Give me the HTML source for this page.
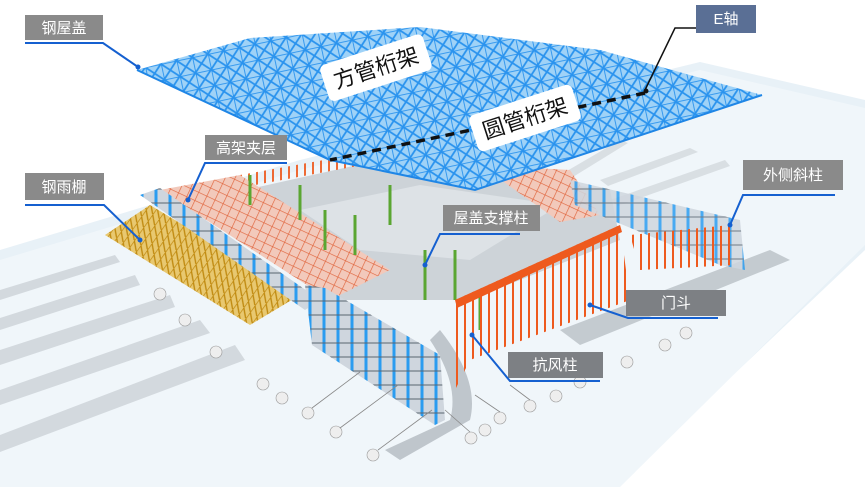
<!DOCTYPE html>
<html><head><meta charset="utf-8"><style>
html,body{margin:0;padding:0;background:#fff;}
svg{display:block}
.lb{font-family:"Liberation Sans","Noto Sans CJK SC",sans-serif;fill:#fff;font-size:15px}
</style></head><body>
<svg width="865" height="487" viewBox="0 0 865 487" xmlns="http://www.w3.org/2000/svg">
<defs>
<pattern id="lat" width="16" height="16" patternUnits="userSpaceOnUse" patternTransform="rotate(-12)">
<rect width="16" height="16" fill="#9fd2f7"/>
<path d="M0 0L16 16M16 0L0 16M0 0H16M0 0V16" stroke="#2a93ee" stroke-width="1.8"/>
</pattern>
<pattern id="org" width="9" height="9" patternUnits="userSpaceOnUse" patternTransform="rotate(25)">
<rect width="9" height="9" fill="#f2c9bb"/>
<path d="M0 0V9M0 0H9" stroke="#e0643c" stroke-width="1.3"/>
</pattern>
<pattern id="ow" width="8" height="10" patternUnits="userSpaceOnUse">
<rect width="8" height="10" fill="none"/>
<path d="M1 0V10" stroke="#ee5a1e" stroke-width="2"/>
</pattern>
<pattern id="yel" width="8" height="8" patternUnits="userSpaceOnUse" patternTransform="rotate(35)">
<rect width="8" height="8" fill="#e8c870"/>
<path d="M0 0L8 8M0 0V8" stroke="#c08a10" stroke-width="1.4"/>
</pattern>
<pattern id="bw" width="14" height="14" patternUnits="userSpaceOnUse">
<rect width="14" height="14" fill="#cfd6de"/>
<path d="M2 0V14" stroke="#2a9cf0" stroke-width="3"/>
<path d="M0 7H14" stroke="#5a6570" stroke-width="1"/>
</pattern>
</defs>
<polygon points="0,250 300,160 700,62 865,100 865,250 615,487 0,487" fill="#e8f1f7"/>
<polygon points="0,260 300,170 700,70 865,108 865,245 620,487 0,487" fill="#f0f6fa"/>
<g fill="#d3d9de">
<polygon points="0,290 115,255 120,262 0,300"/>
<polygon points="0,318 135,275 140,285 0,330"/>
<polygon points="0,350 170,295 175,307 0,365"/>
<polygon points="0,390 200,320 210,333 0,405"/>
<polygon points="0,435 235,345 245,360 0,452"/>
</g>
<g fill="#d9dfe3">
<polygon points="560,175 620,140 628,143 568,180"/>
<polygon points="600,180 690,148 698,152 608,186"/>
<polygon points="610,200 725,160 730,166 618,206"/>
</g>
<polygon points="200,200 380,160 610,190 620,240 470,300 330,300" fill="#cdd3d8"/>
<polygon points="300,210 420,185 560,205 470,260 360,250" fill="#dde2e6"/>
<path d="M440,330 Q480,380 470,420 L400,460 L385,450 L450,420 Q460,385 430,340Z" fill="#bfc6cc"/>
<polygon points="560,330 770,250 790,260 580,345" fill="#c4cbd0"/>
<polygon points="160,190 240,175 390,270 330,300" fill="url(#org)"/>
<polygon points="240,175 380,150 390,160 255,185" fill="url(#ow)" opacity=".9"/>
<polygon points="480,165 570,170 600,215 560,222" fill="url(#org)"/>
<g stroke="#5aa632" stroke-width="3">
<line x1="300" y1="185" x2="300" y2="220"/><line x1="325" y1="210" x2="325" y2="250"/>
<line x1="355" y1="215" x2="355" y2="255"/><line x1="390" y1="185" x2="390" y2="225"/>
<line x1="425" y1="250" x2="425" y2="300"/><line x1="455" y1="250" x2="455" y2="300"/>
<line x1="480" y1="290" x2="480" y2="330"/><line x1="250" y1="175" x2="250" y2="205"/>
</g>
<polygon points="105,235 150,205 300,295 250,325" fill="url(#yel)"/>
<polygon points="140,195 160,188 320,300 305,310" fill="url(#bw)"/>
<polygon points="305,285 325,288 440,355 445,420 435,425 312,345" fill="url(#bw)"/>
<polygon points="455,300 620,225 630,300 470,360 450,400" fill="url(#ow)"/>
<polygon points="455,300 620,225 622,232 457,308" fill="#ee5a1e"/>
<polygon points="570,180 740,220 745,270 720,265 575,205" fill="url(#bw)" opacity=".85"/>
<polygon points="630,235 730,225 735,265 640,270" fill="url(#ow)"/>
<polygon points="137,70 250,38 420,27 600,50 762,95 475,190 330,160" fill="url(#lat)"/>
<path d="M137,70 L330,160 L475,190 L762,95" stroke="#1f86e6" stroke-width="2" fill="none"/>
<line x1="645" y1="93" x2="330" y2="160" stroke="#111" stroke-width="3.5" stroke-dasharray="9,6"/>
<g transform="rotate(-18 375 68)"><rect x="322" y="49" width="108" height="38" rx="6" fill="#fff"/>
<text x="376" y="76" text-anchor="middle" font-family="Liberation Sans,'Noto Sans CJK SC',sans-serif" font-size="22" fill="#111">方管桁架</text></g>
<g transform="rotate(-18 525 118)"><rect x="471" y="99" width="108" height="38" rx="6" fill="#fff"/>
<text x="525" y="126" text-anchor="middle" font-family="Liberation Sans,'Noto Sans CJK SC',sans-serif" font-size="22" fill="#111">圆管桁架</text></g>
<g stroke="#999" stroke-width=".6">
<circle cx="373" cy="455" r="6" fill="#eee"/><circle cx="336" cy="432" r="6" fill="#eee"/><circle cx="308" cy="413" r="6" fill="#eee"/>
<circle cx="282" cy="398" r="6" fill="#eee"/><circle cx="263" cy="384" r="6" fill="#eee"/><circle cx="216" cy="352" r="6" fill="#eee"/>
<circle cx="185" cy="320" r="6" fill="#eee"/><circle cx="160" cy="294" r="6" fill="#eee"/><circle cx="471" cy="438" r="6" fill="#eee"/>
<circle cx="485" cy="430" r="6" fill="#eee"/><circle cx="500" cy="418" r="6" fill="#eee"/><circle cx="530" cy="406" r="6" fill="#eee"/>
<circle cx="556" cy="396" r="6" fill="#eee"/><circle cx="580" cy="382" r="6" fill="#eee"/><circle cx="627" cy="362" r="6" fill="#eee"/>
<circle cx="665" cy="345" r="6" fill="#eee"/><circle cx="686" cy="333" r="6" fill="#eee"/>
</g>
<g stroke="#888" stroke-width=".8">
<line x1="378" y1="450" x2="432" y2="410"/><line x1="340" y1="428" x2="398" y2="385"/><line x1="312" y1="408" x2="360" y2="372"/>
<line x1="470" y1="432" x2="445" y2="410"/><line x1="500" y1="412" x2="475" y2="395"/><line x1="530" y1="400" x2="510" y2="385"/>
</g>
<g>
<rect x="25" y="15" width="78" height="25" fill="#8a8a8a"/><text class="lb" x="64" y="33" text-anchor="middle">钢屋盖</text>
<path d="M25,43 H103 L138,67" stroke="#1560d0" stroke-width="2" fill="none"/><circle cx="138" cy="67" r="2.5" fill="#1560d0"/>
<rect x="696" y="5" width="60" height="28" fill="#5a6f95"/><text class="lb" x="726" y="24" text-anchor="middle">E轴</text>
<path d="M696,28 H675 L645,90" stroke="#111" stroke-width="1.5" fill="none"/><circle cx="646" cy="91" r="2.5" fill="#111"/>
<rect x="205" y="135" width="82" height="25" fill="#8a8a8a"/><text class="lb" x="246" y="153" text-anchor="middle">高架夹层</text>
<path d="M287,163 H205 L188,200" stroke="#1560d0" stroke-width="2" fill="none"/><circle cx="188" cy="200" r="2.5" fill="#1560d0"/>
<rect x="25" y="173" width="79" height="27" fill="#8a8a8a"/><text class="lb" x="64" y="192" text-anchor="middle">钢雨棚</text>
<path d="M25,205 H104 L140,240" stroke="#1560d0" stroke-width="2" fill="none"/><circle cx="140" cy="240" r="2.5" fill="#1560d0"/>
<rect x="443" y="205" width="97" height="26" fill="#8a8a8a"/><text class="lb" x="491" y="223" text-anchor="middle">屋盖支撑柱</text>
<path d="M520,234 H440 L425,265" stroke="#1560d0" stroke-width="2" fill="none"/><circle cx="425" cy="265" r="2.5" fill="#1560d0"/>
<rect x="743" y="160" width="100" height="30" fill="#8a8a8a"/><text class="lb" x="793" y="180" text-anchor="middle">外侧斜柱</text>
<path d="M835,195 H743 L730,225" stroke="#1560d0" stroke-width="2" fill="none"/><circle cx="730" cy="225" r="2.5" fill="#1560d0"/>
<rect x="626" y="290" width="100" height="26" fill="#7d8084"/><text class="lb" x="676" y="308" text-anchor="middle">门斗</text>
<path d="M718,318 H628 L590,305" stroke="#1560d0" stroke-width="2" fill="none"/><circle cx="590" cy="305" r="2.5" fill="#1560d0"/>
<rect x="508" y="352" width="95" height="26" fill="#7d8084"/><text class="lb" x="555" y="370" text-anchor="middle">抗风柱</text>
<path d="M600,381 H510 L472,335" stroke="#1560d0" stroke-width="2" fill="none"/><circle cx="472" cy="335" r="2.5" fill="#1560d0"/>
</g>
</svg>
</body></html>
